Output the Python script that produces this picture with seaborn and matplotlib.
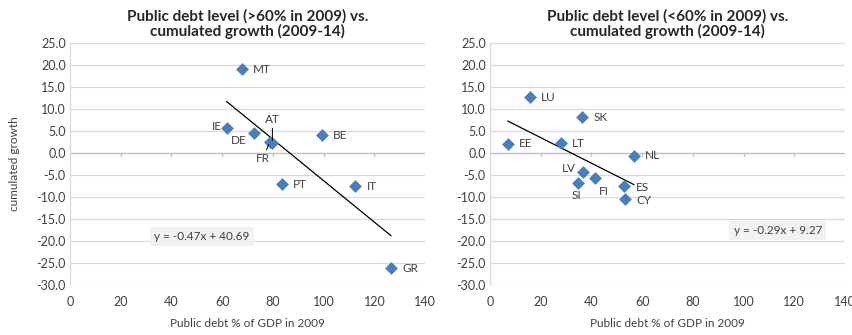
import numpy as np
import pandas as pd
import seaborn as sns
import matplotlib.pyplot as plt

# high-debt countries (>60% in 2009)
high_codes = ['MT', 'IE', 'DE', 'FR', 'AT', 'BE', 'PT', 'IT', 'GR']
high_debt = [67.8, 61.7, 72.4, 78.8, 79.8, 99.3, 83.6, 112.5, 126.6]
high_growth = [19.0, 5.6, 4.5, 2.5, 2.2, 4.0, -7.1, -7.6, -26.2]
high_fit = (-0.47, 40.69)

# low-debt countries (<60% in 2009)
low_codes = ['LU', 'SK', 'EE', 'LT', 'NL', 'LV', 'SI', 'FI', 'ES', 'CY']
low_debt = [15.7, 36.3, 7.0, 28.0, 56.8, 36.5, 34.7, 41.5, 52.7, 53.4]
low_growth = [12.6, 8.1, 2.1, 2.2, -0.6, -4.4, -6.8, -5.8, -7.6, -10.5]
low_fit = (-0.29, 9.27)

titles = ['Public debt level (>60% in 2009) vs.\ncumulated growth (2009-14)',
          'Public debt level (<60% in 2009) vs.\ncumulated growth (2009-14)']
x_ticks = [0, 20, 40, 60, 80, 100, 120, 140]
y_ticks = [25, 20, 15, 10, 5, 0, -5, -10, -15, -20, -25, -30]

# label offsets in points (dx, dy, ha)
high_offsets = {
    'MT': (8, 0, 'left'), 'IE': (-3, 1, 'right'), 'DE': (-11, -5, 'center'),
    'FR': (-5, -12, 'center'), 'AT': (0, 17, 'center'), 'BE': (8, 0, 'left'),
    'PT': (8, 0, 'left'), 'IT': (8, 0, 'left'), 'GR': (8, 0, 'left'),
}
low_offsets = {
    'LU': (8, 0, 'left'), 'SK': (8, 0, 'left'), 'EE': (8, 0, 'left'),
    'LT': (8, 0, 'left'), 'NL': (8, 0, 'left'), 'LV': (-10, 3, 'center'),
    'SI': (-1, -9, 'center'), 'FI': (6, -9.5, 'center'), 'ES': (9, -1, 'left'),
    'CY': (8, -1, 'left'),
}
leaders = {'AT', 'FR'}
eq_pos = [(52, -19.0), (113.5, -17.6)]

sns.set_theme(style='white')
plt.rcParams['font.family'] = ['Lato', 'DejaVu Sans']

blue = '#4a7ebb'
grid_c = '#d9d9d9'
text_c = '#404040'

fig = plt.figure(figsize=(8.52, 3.35), dpi=100)
ax1 = fig.add_axes([0.0822, 0.149, 0.4167, 0.7233])
ax2 = fig.add_axes([0.5751, 0.149, 0.4167, 0.7233])

panels = [
    (ax1, high_codes, high_debt, high_growth, high_fit, high_offsets),
    (ax2, low_codes, low_debt, low_growth, low_fit, low_offsets),
]

for i, (ax, codes, debt, growth, fit, offsets) in enumerate(panels):
    df = pd.DataFrame({'code': codes, 'debt': debt, 'growth': growth})
    slope, icpt = fit
    xs = np.array([df['debt'].min(), df['debt'].max()])
    line_df = pd.DataFrame({'debt': xs, 'growth': slope * xs + icpt})

    ax.set_xlim(0, 140)
    ax.set_ylim(-30, 25)
    for yv in y_ticks:
        ax.axhline(yv, color=grid_c, lw=0.9, zorder=0)

    sns.lineplot(ax=ax, data=line_df, x='debt', y='growth',
                 color='black', lw=0.9, zorder=2)
    sns.scatterplot(ax=ax, data=df, x='debt', y='growth', marker='D',
                    color=blue, s=36, edgecolor=blue, linewidth=0.5, zorder=3)

    for _, r in df.iterrows():
        dx, dy, ha = offsets[r['code']]
        arrow = dict(arrowstyle='-', color='black', lw=0.7,
                     shrinkA=0, shrinkB=2) if r['code'] in leaders else None
        ax.annotate(r['code'], (r['debt'], r['growth']), xytext=(dx, dy),
                    textcoords='offset points', ha=ha, va='center',
                    fontsize=8.5, color=text_c, arrowprops=arrow)

    sign = '-' if slope < 0 else '+'
    ax.text(eq_pos[i][0], eq_pos[i][1],
            f'y = {sign}{abs(slope):.2f}x + {icpt:.2f}',
            ha='center', va='center', fontsize=8.5, color=text_c,
            bbox=dict(boxstyle='square,pad=0.35', fc='#f2f2f2', ec='none'))

    # axis line at y = 0 with tick marks, labels at the bottom
    for s in ['top', 'right', 'bottom']:
        ax.spines[s].set_visible(False)
    ax.spines['left'].set_color(grid_c)
    ax.spines['left'].set_linewidth(0.9)
    ax.axhline(0, color='#bfbfbf', lw=0.9, zorder=1)
    for xv in x_ticks[1:]:
        ax.plot([xv, xv], [-0.8, 0], color='#bfbfbf', lw=0.9, zorder=1)

    ax.set_xticks(x_ticks)
    ax.set_yticks(y_ticks)
    ax.set_yticklabels([f'{v:.1f}' for v in y_ticks])
    ax.tick_params(axis='both', length=0, labelsize=9, colors=text_c, pad=3)
    ax.tick_params(axis='x', pad=8)

    ax.set_xlabel('Public debt % of GDP in 2009', fontsize=8.5, color=text_c, labelpad=7)
    ax.set_ylabel('cumulated growth' if i == 0 else '', fontsize=8.5, color=text_c, labelpad=12)
    ax.set_title(titles[i], fontsize=11, fontweight='bold', color='#262626',
                 pad=5, linespacing=1.05)

fig.savefig('out.png', dpi=100)
